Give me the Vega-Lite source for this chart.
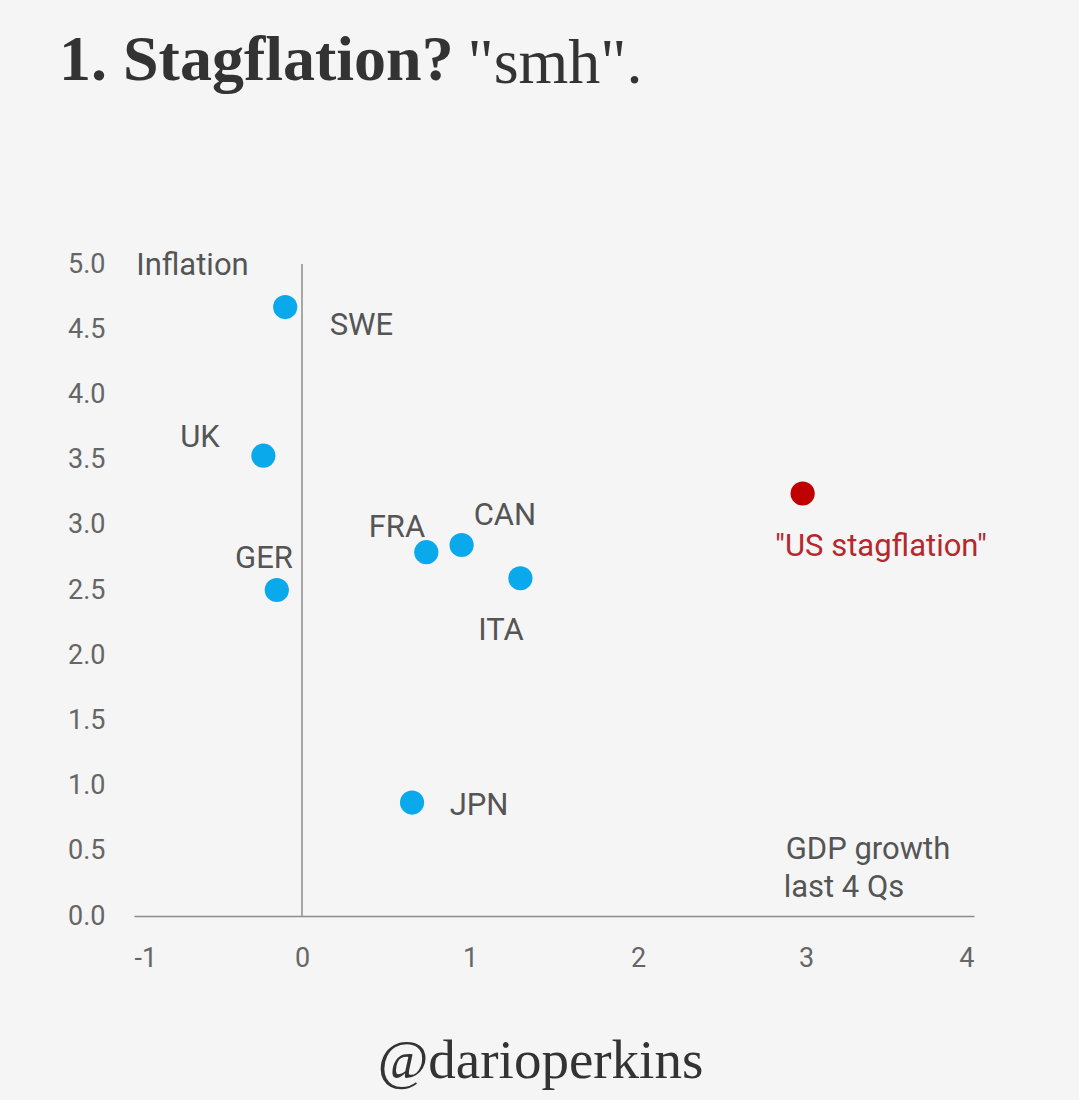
{
  "$schema": "https://vega.github.io/schema/vega-lite/v6.json",
  "width": 840,
  "height": 652,
  "autosize": "none",
  "padding": {"left": 134, "top": 264, "right": 105, "bottom": 184},
  "background": "#f5f5f5",
  "title": {
    "text": "1. Stagflation?",
    "anchor": "start",
    "frame": "group",
    "dx": -75,
    "offset": -62,
    "font": "Liberation Serif",
    "fontSize": 64,
    "fontWeight": "bold",
    "color": "#333333"
  },
  "datasets": {
    "countries": [
      {"country": "SWE", "gdp": -0.10, "inflation": 4.67, "group": "other"},
      {"country": "UK", "gdp": -0.23, "inflation": 3.53, "group": "other"},
      {"country": "GER", "gdp": -0.15, "inflation": 2.50, "group": "other"},
      {"country": "FRA", "gdp": 0.74, "inflation": 2.79, "group": "other"},
      {"country": "CAN", "gdp": 0.95, "inflation": 2.845, "group": "other"},
      {"country": "ITA", "gdp": 1.30, "inflation": 2.59, "group": "other"},
      {"country": "JPN", "gdp": 0.655, "inflation": 0.87, "group": "other"},
      {"country": "US", "gdp": 2.98, "inflation": 3.24, "group": "us"}
    ],
    "annotations": [
      {"text": "SWE", "gdp": 0.354, "inflation": 4.455, "group": "other"},
      {"text": "UK", "gdp": -0.607, "inflation": 3.597, "group": "other"},
      {"text": "GER", "gdp": -0.226, "inflation": 2.669, "group": "other"},
      {"text": "FRA", "gdp": 0.565, "inflation": 2.906, "group": "other"},
      {"text": "CAN", "gdp": 1.208, "inflation": 2.998, "group": "other"},
      {"text": "ITA", "gdp": 1.185, "inflation": 2.117, "group": "other"},
      {"text": "JPN", "gdp": 1.054, "inflation": 0.775, "group": "other"},
      {"text": "\"US stagflation\"", "gdp": 3.446, "inflation": 2.763, "group": "us"},
      {"text": "Inflation", "gdp": -0.652, "inflation": 4.916, "group": "other"},
      {"text": "GDP growth", "gdp": 3.369, "inflation": 0.437, "group": "other"},
      {"text": "last 4 Qs", "gdp": 3.226, "inflation": 0.146, "group": "other"}
    ]
  },
  "encoding": {
    "x": {
      "type": "quantitative",
      "scale": {"domain": [-1, 4], "nice": false, "zero": false},
      "axis": {
        "title": "@darioperkins",
        "titleFont": "Liberation Serif",
        "titleFontSize": 55,
        "titleFontWeight": "normal",
        "titleColor": "#333333",
        "titlePadding": 63,
        "titleX": 406,
        "titleAlign": "center",
        "values": [-1, 0, 1, 2, 3, 4],
        "labelExpr": "'' + datum.value",
        "labelFont": "Roboto",
        "labelFontSize": 27,
        "labelColor": "#666666",
        "labelPadding": 29,
        "ticks": false,
        "grid": false,
        "domain": true,
        "domainColor": "#8c8c8c",
        "domainWidth": 1.5
      }
    },
    "y": {
      "type": "quantitative",
      "scale": {"domain": [0, 5], "nice": false, "zero": false},
      "axis": {
        "title": "\"smh\".",
        "titleFont": "Liberation Serif",
        "titleFontSize": 64,
        "titleFontWeight": "normal",
        "titleColor": "#333333",
        "titleAngle": 0,
        "titleAlign": "left",
        "titleBaseline": "alphabetic",
        "titleX": 333,
        "titleY": -182,
        "values": [0, 0.5, 1, 1.5, 2, 2.5, 3, 3.5, 4, 4.5, 5],
        "format": ".1f",
        "labelFont": "Roboto",
        "labelFontSize": 27,
        "labelColor": "#666666",
        "labelPadding": 29,
        "ticks": false,
        "grid": false,
        "domain": false
      }
    }
  },
  "layer": [
    {
      "data": {"values": [{"gdp": 0, "low": 0, "high": 5}]},
      "mark": {"type": "rule", "color": "#8c8c8c", "strokeWidth": 1.5},
      "encoding": {
        "x": {"field": "gdp"},
        "y": {"field": "low"},
        "y2": {"field": "high"}
      }
    },
    {
      "data": {"name": "countries"},
      "mark": {"type": "circle", "size": 585, "opacity": 1},
      "encoding": {
        "x": {"field": "gdp"},
        "y": {"field": "inflation"},
        "color": {
          "field": "group",
          "type": "nominal",
          "scale": {"domain": ["other", "us"], "range": ["#0aa9ec", "#c00000"]},
          "legend": null
        }
      }
    },
    {
      "data": {"name": "annotations"},
      "mark": {"type": "text", "font": "Roboto", "fontSize": 31, "align": "center", "baseline": "alphabetic"},
      "encoding": {
        "x": {"field": "gdp"},
        "y": {"field": "inflation"},
        "text": {"field": "text"},
        "color": {
          "condition": {"test": "datum.group === 'us'", "value": "#b5282d"},
          "value": "#555555"
        }
      }
    }
  ],
  "config": {"view": {"stroke": null}}
}
